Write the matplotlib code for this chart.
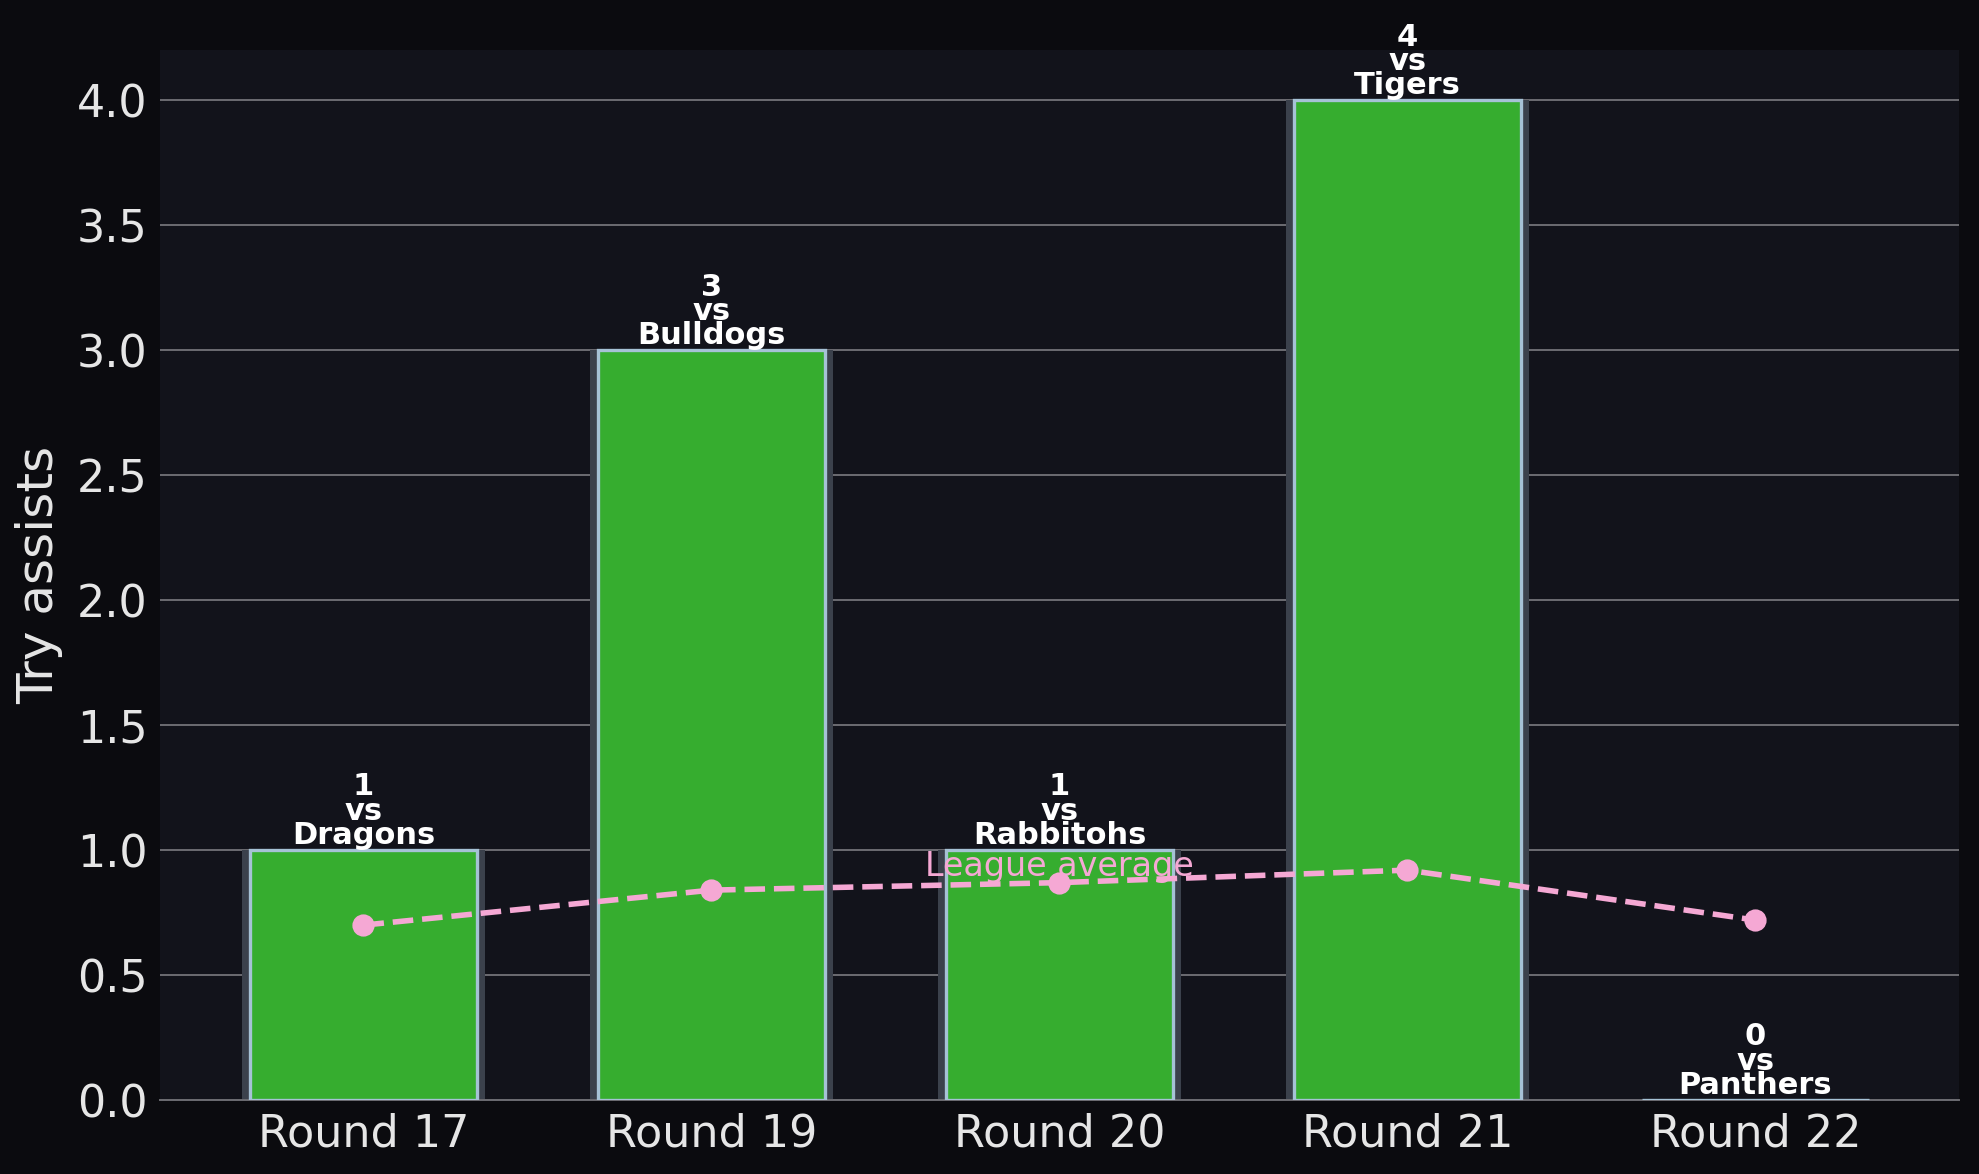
import numpy as np
import matplotlib

matplotlib.use("Agg")
import matplotlib.pyplot as plt

rounds = ["Round 17", "Round 19", "Round 20", "Round 21", "Round 22"]
opponents = ["Dragons", "Bulldogs", "Rabbitohs", "Tigers", "Panthers"]
try_assists = [1, 3, 1, 4, 0]
league_avg = [0.70, 0.84, 0.87, 0.92, 0.72]

fig_bg = "#0b0b0f"
ax_bg = "#12131b"
bar_green = "#36ad2f"
edge_blue = "#a6c2d6"
shadow = "#3b414c"
pink = "#f5a8d4"
text_col = "#e6e6e6"

fig, ax = plt.subplots(figsize=(9.895, 5.87), dpi=200)
fig.patch.set_facecolor(fig_bg)
ax.set_facecolor(ax_bg)
fig.subplots_adjust(left=0.0808, right=0.9899, bottom=0.063, top=0.957)

x = np.arange(len(rounds))
ax.bar(x, try_assists, width=0.7, color=shadow, zorder=2)
ax.bar(x, try_assists, width=0.65, color=bar_green, edgecolor=edge_blue,
       linewidth=1.2, zorder=3)

ax.plot(x, league_avg, "--", color=pink, lw=2, marker="o", markersize=7, zorder=4)
ax.text(x[2], league_avg[2], "League average", color=pink, fontsize=12,
        ha="center", va="bottom", zorder=5)

for xi, v, opp in zip(x, try_assists, opponents):
    ax.text(xi, v, f"{v}\nvs\n{opp}", ha="center", va="bottom", color="white",
            fontsize=11, fontweight="bold", linespacing=0.8, zorder=6)

ax.set_xticks(x)
ax.set_xticklabels(rounds)
ax.set_ylabel("Try assists", fontsize=18, color=text_col, labelpad=5)
ax.tick_params(axis="both", length=0, labelsize=16, labelcolor=text_col, pad=4.5)
ax.yaxis.grid(True, color="#6c6c72", linewidth=0.7, zorder=0)
ax.set_axisbelow(True)
for s in ["left", "right", "top"]:
    ax.spines[s].set_visible(False)
ax.spines["bottom"].set_color("#6c6c72")
ax.spines["bottom"].set_linewidth(0.7)

fig.savefig("out.png", dpi=200, facecolor=fig_bg)
